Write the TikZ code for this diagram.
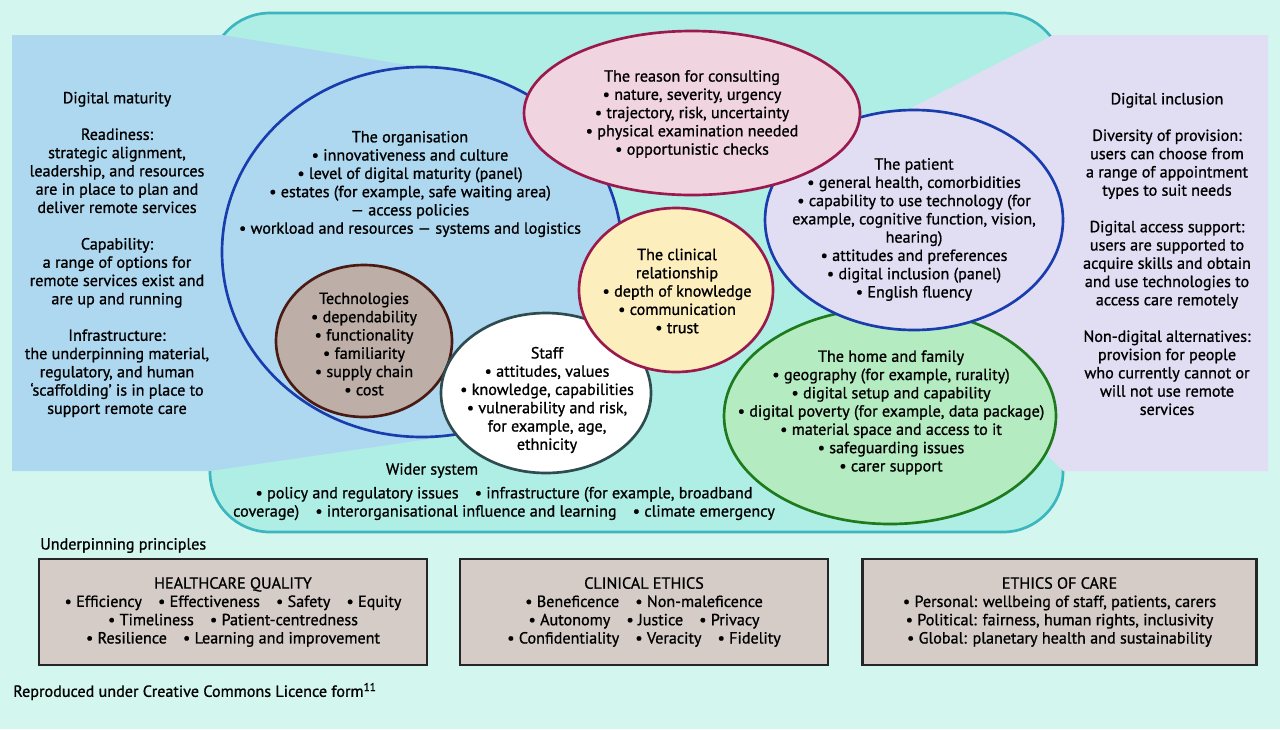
\documentclass[tikz,border=0pt]{standalone}
\usepackage{fontspec}
\setmainfont{PT Sans}[FakeBold=1.0]
\usepackage{tikz}
\definecolor{bgmint}{HTML}{D3F6EF}
\definecolor{widerfill}{HTML}{AFEEE5}
\definecolor{widerline}{HTML}{3BB5BE}
\definecolor{orgblue}{HTML}{AED8F0}
\definecolor{orgline}{HTML}{1A3DAE}
\definecolor{lavender}{HTML}{E1DDF3}
\definecolor{reasonfill}{HTML}{F0D4DF}
\definecolor{plum}{HTML}{9B1A4E}
\definecolor{clinfill}{HTML}{FDEEBE}
\definecolor{techfill}{HTML}{BDAEA8}
\definecolor{techline}{HTML}{4A1B12}
\definecolor{staffline}{HTML}{2E4B50}
\definecolor{homefill}{HTML}{B4EBC0}
\definecolor{homeline}{HTML}{1D7A1D}
\definecolor{boxfill}{HTML}{D5CCC8}
\tikzstyle{txt} = [align=center, inner sep=0pt, font=\fontsize{12.1}{13.7}\selectfont]
\tikzstyle{bubble} = [line width=2pt]
\tikzstyle{principle} = [txt, draw=black!85, line width=2.2pt, fill=boxfill, minimum height=79.5pt]

\begin{document}
\begin{tikzpicture}[x=0.75pt, y=-0.75pt]
        \fill[bgmint] (0,0) rectangle (1280,729);
        \useasboundingbox (0,0) rectangle (1280,729);

        % wider system and the two side panels
        \filldraw[fill=widerfill, draw=widerline, line width=2pt, rounded corners=45pt] (210,13) rectangle (1063,532);
        \fill[orgblue] (12,35) -- (222,35) -- (420,67) -- (470,433) -- (210,471) -- (12,471) -- cycle;
        \fill[lavender] (1053,35) -- (1268,35) -- (1268,471) -- (1063,471) -- (1000,408) -- (905,111) -- cycle;

        \filldraw[bubble, fill=orgblue, draw=orgline] (422,252) ellipse [x radius=200, y radius=185];
        \filldraw[bubble, fill=homefill, draw=homeline] (890,416) ellipse [x radius=166, y radius=108];
        \filldraw[bubble, fill=lavender, draw=orgline] (914,220) ellipse [x radius=149, y radius=110];
        \filldraw[bubble, fill=reasonfill, draw=plum] (692,113) ellipse [x radius=168, y radius=82];
        \filldraw[bubble, fill=techfill, draw=techline] (364,341) ellipse [x radius=88, y radius=76];
        \filldraw[bubble, fill=white, draw=staffline] (546,393) ellipse [x radius=105, y radius=80];
        \filldraw[bubble, fill=clinfill, draw=plum] (676,290) ellipse [x radius=97, y radius=82];

        \node[txt] at (117,254.5) (maturity) {Digital maturity\\[13.7pt]
            Readiness:\\strategic alignment,\\leadership, and resources\\are in place to plan and\\deliver remote services\\[13.7pt]
            Capability:\\a range of options for\\remote services exist and\\are up and running\\[13.7pt]
            Infrastructure:\\the underpinning material,\\regulatory, and human\\‘scaffolding’ is in place to\\support remote care};
        \node[txt] at (1167,254) (inclusion) {Digital inclusion\\[13.7pt]
            Diversity of provision:\\users can choose from\\a range of appointment\\types to suit needs\\[13.7pt]
            Digital access support:\\users are supported to\\acquire skills and obtain\\and use technologies to\\access care remotely\\[13.7pt]
            Non-digital alternatives:\\provision for people\\who currently cannot or\\will not use remote\\services};

        \node[txt] at (410,184) (org) {The organisation\\• innovativeness and culture\\• level of digital maturity (panel)\\• estates (for example, safe waiting area)\\— access policies\\• workload and resources — systems and logistics};
        \node[txt] at (692,114) (reason) {The reason for consulting\\• nature, severity, urgency\\• trajectory, risk, uncertainty\\• physical examination needed\\• opportunistic checks};
        \node[txt] at (914,229.5) (patient) {The patient\\• general health, comorbidities\\• capability to use technology (for\\example, cognitive function, vision,\\hearing)\\• attitudes and preferences\\• digital inclusion (panel)\\• English fluency};
        \node[txt] at (677,291) (clinical) {The clinical\\relationship\\• depth of knowledge\\• communication\\• trust};
        \node[txt] at (364,344) (tech) {Technologies\\• dependability\\• functionality\\• familiarity\\• supply chain\\• cost};
        \node[txt] at (547,400) (staff) {Staff\\• attitudes, values\\• knowledge, capabilities\\• vulnerability and risk,\\for example, age,\\ethnicity};
        \node[txt] at (891,412.5) (home) {The home and family\\• geography (for example, rurality)\\• digital setup and capability\\• digital poverty (for example, data package)\\• material space and access to it\\• safeguarding issues\\• carer support};

        \node[txt] at (432,470.5) (wider) {Wider system};
        \node[txt] at (504,503.5) (widerlist) {• policy and regulatory issues\quad • infrastructure (for example, broadband\\coverage)\quad • interorganisational influence and learning\quad • climate emergency};

        \node[txt, anchor=west] at (40,545.5) (under) {Underpinning principles};
        \node[principle, minimum width=291pt] at (233,612) (quality) {HEALTHCARE QUALITY\\• Efficiency\quad • Effectiveness\quad • Safety\quad • Equity\\• Timeliness\quad • Patient-centredness\\• Resilience\quad • Learning and improvement};
        \node[principle, minimum width=276pt] at (644,612) (ethics) {CLINICAL ETHICS\\• Beneficence\quad • Non-maleficence\\• Autonomy\quad • Justice\quad • Privacy\\• Confidentiality\quad • Veracity\quad • Fidelity};
        \node[principle, minimum width=296pt] at (1059.5,612) (care) {ETHICS OF CARE\\• Personal: wellbeing of staff, patients, carers\\• Political: fairness, human rights, inclusivity\\• Global: planetary health and sustainability};

        \node[txt, anchor=west] at (13,691.5) (licence) {Reproduced under Creative Commons Licence form\textsuperscript{11}};
\end{tikzpicture}
\end{document}
